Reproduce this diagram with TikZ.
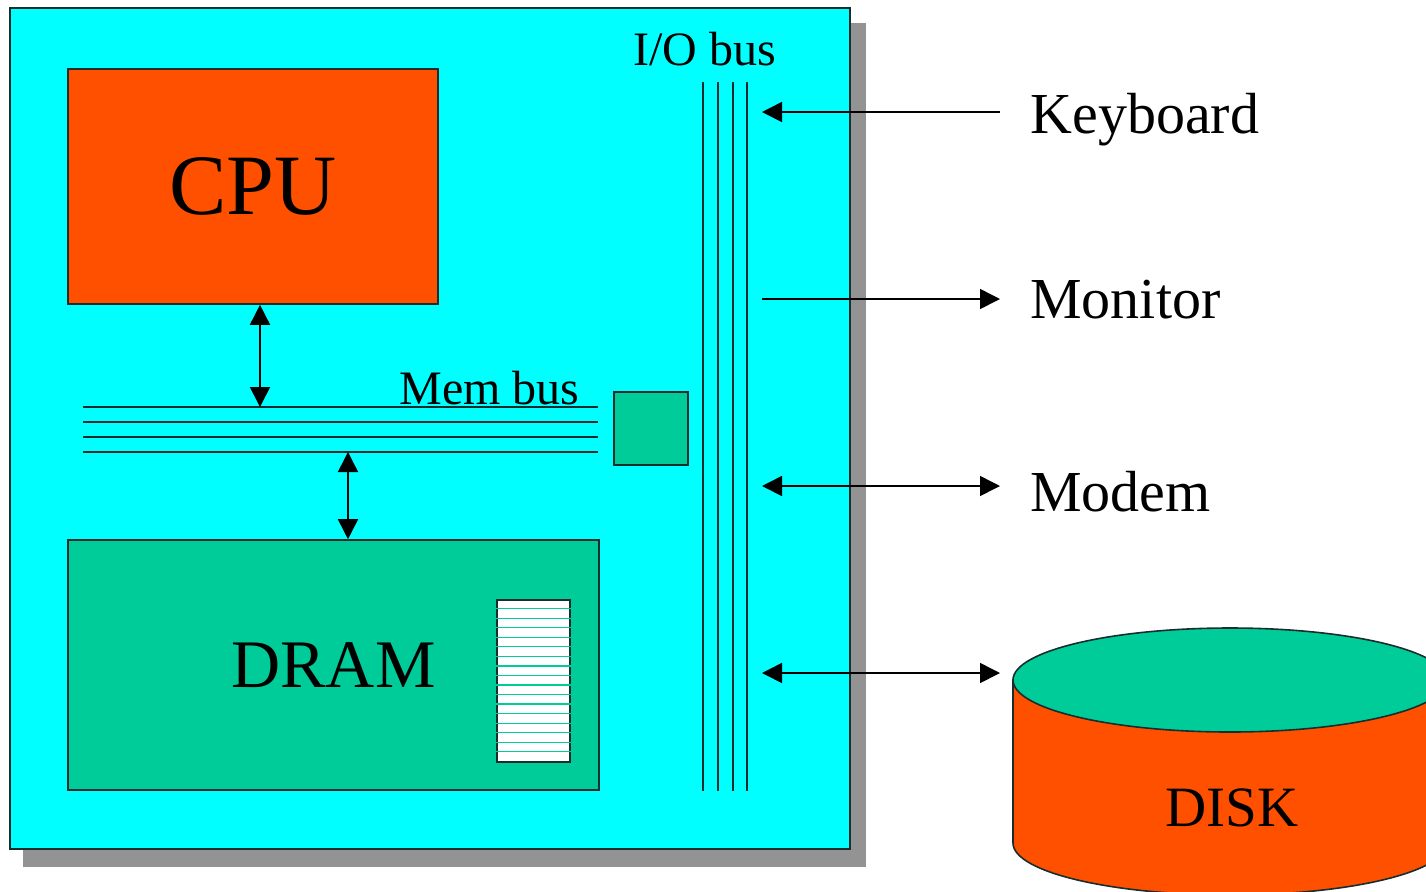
\documentclass[tikz,border=0pt]{standalone}
\usepackage{fontspec}
\setmainfont{Liberation Serif}
\usepackage{tikz}
\usetikzlibrary{arrows.meta}
\definecolor{board}{RGB}{0,255,255}
\definecolor{chip}{RGB}{255,80,0}
\definecolor{mint}{RGB}{0,204,153}
\definecolor{shadowgrey}{RGB}{147,147,147}
\definecolor{edge}{RGB}{25,45,45}

\begin{document}
\begin{tikzpicture}[x=0.5pt, y=-0.5pt, >={Triangle[length=10pt,width=10pt]},
    box/.style={draw=edge, line width=0.8pt, inner sep=0pt},
    bus/.style={draw=edge, line width=0.8pt},
    link/.style={draw=black, line width=0.8pt},
    devlabel/.style={font=\fontsize{29}{34}\selectfont, anchor=base west, inner sep=0pt}]
  \useasboundingbox (0,0) rectangle (1426,891);
  \fill[shadowgrey] (23,23) rectangle (866,867);
  \node[box, line width=1pt, fill=board, minimum width=420pt, minimum height=420.5pt] (board) at (430,428.5) {};
  \node[box, fill=chip, minimum width=185pt, minimum height=117.5pt, font=\fontsize{43}{50}\selectfont] (cpu) at (253,186.5) {CPU};
  \node[box, fill=mint, minimum width=265.5pt, minimum height=125pt, font=\fontsize{34}{40}\selectfont] (dram) at (333.5,665) {DRAM};
  \node[box, fill=white, minimum width=36.5pt, minimum height=81pt] (cells) at (533.5,681) {};
  \foreach \k in {1,...,16}
    \draw[mint, line width=0.6pt] ([yshift=-\k*4.765pt]cells.north west) -- ([yshift=-\k*4.765pt]cells.north east);
  \node[box, fill=mint, minimum width=37pt, minimum height=36.5pt] (bridge) at (651,428.5) {};

  \foreach \y in {407,422,437,452}
    \draw[bus] (83,\y) -- (598,\y);
  \node[font=\fontsize{24}{28}\selectfont, anchor=base east, inner sep=0pt] (memlabel) at (580,404) {Mem bus};
  \foreach \x in {703,718,733,747}
    \draw[bus] (\x,82) -- (\x,791);
  \node[font=\fontsize{24}{28}\selectfont, anchor=base, inner sep=0pt] (iolabel) at (705,65) {I/O bus};

  \coordinate (membus) at (260,407);
  \coordinate (membus-low) at (348,452);
  \coordinate (ioport) at (762,0);
  \draw[link, <->] (cpu.south -| membus) -- (membus);
  \draw[link, <->] (membus-low) -- (dram.north -| membus-low);

  \foreach \name/\lab/\y/\base in {kbd/Keyboard/112/133, mon/Monitor/299/318, mdm/Modem/486/511} {
    \node[devlabel] (\name) at (1030,\base) {\lab};
    \coordinate (\name-end) at (1000,\y);
  }
  \draw[link, <-] (kbd-end -| ioport) -- (kbd-end);
  \draw[link, ->] (mon-end -| ioport) -- (mon-end);
  \draw[link, <->] (mdm-end -| ioport) -- (mdm-end);

  \begin{scope}
    \clip (0,0) rectangle (1426,891);
    \coordinate (disktop) at (1230,680);
    \filldraw[fill=chip, draw=edge, line width=0.8pt] (1013,680) -- (1013,843)
      arc[start angle=180, end angle=360, x radius=108.5pt, y radius=26pt] -- (1447,680) -- cycle;
    \filldraw[fill=mint, draw=edge, line width=0.8pt] (disktop) ellipse [x radius=108.5pt, y radius=26pt];
    \node[font=\fontsize{28.5}{33}\selectfont] (disk) at (1232,808) {DISK};
  \end{scope}
  \coordinate (disk-end) at (1000,673);
  \draw[link, <->] (disk-end -| ioport) -- (disk-end);
\end{tikzpicture}
\end{document}
